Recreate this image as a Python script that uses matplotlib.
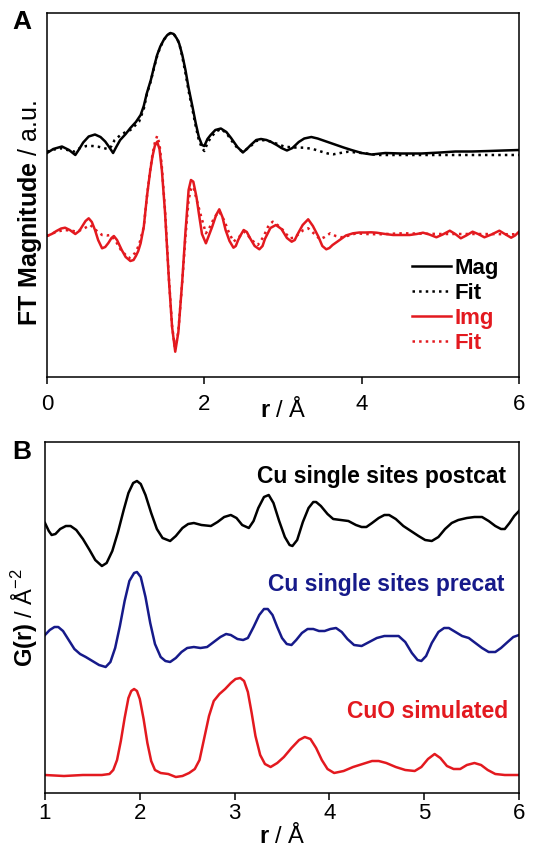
import matplotlib
matplotlib.use("Agg")
import matplotlib.pyplot as plt

plt.rcParams["font.family"] = ["Liberation Sans", "DejaVu Sans"]
plt.rcParams["mathtext.fontset"] = "custom"
plt.rcParams["mathtext.rm"] = "Liberation Sans"
plt.rcParams["mathtext.bf"] = "Liberation Sans:bold"

RED, NAVY = "#e3191f", "#161a8a"

# --- panel A: EXAFS FT, magnitude / imaginary part with fits (a.u.) ---
r_mag = [0.00, 0.08, 0.19, 0.28, 0.36, 0.41, 0.46, 0.53, 0.61, 0.68, 0.74, 0.79, 0.84, 0.88, 0.93,
         1.00, 1.06, 1.13, 1.19, 1.23, 1.27, 1.32, 1.36, 1.40, 1.44, 1.49, 1.53, 1.57, 1.61, 1.65,
         1.68, 1.72, 1.76, 1.80, 1.85, 1.89, 1.93, 1.97, 2.00, 2.04, 2.08, 2.14, 2.21, 2.28, 2.34,
         2.42, 2.49, 2.54, 2.59, 2.66, 2.72, 2.79, 2.85, 2.92, 2.98, 3.05, 3.12, 3.20, 3.27, 3.36,
         3.44, 3.55, 3.66, 3.77, 3.87, 4.00, 4.13, 4.30, 4.50, 4.76, 5.00, 5.19, 5.40, 5.62, 5.80,
         6.00]
mag = [224, 228, 230.5, 227, 222, 228, 234.5, 240.5, 242.5, 240, 235.5, 230, 224, 230, 237,
       243, 249, 255, 262, 271, 284, 297, 310, 322, 330.5, 338, 342, 344, 343, 338.5,
       333.5, 322, 307, 289, 270, 254, 240, 232, 231, 238, 242, 247, 248.5, 245, 239,
       230, 224.5, 228, 232, 237, 238, 237, 235, 232, 229, 226.5, 229, 235, 238.5, 240,
       238.5, 235.5, 232.5, 229.5, 227, 224, 222.5, 224, 223.5, 223.5, 224.5, 225.5, 225.5, 226, 226.5,
       227]

r_mag_fit = [0.00, 0.09, 0.18, 0.26, 0.34, 0.42, 0.50, 0.58, 0.65, 0.72, 0.78, 0.82, 0.86, 0.95, 1.06,
             1.17, 1.23, 1.27, 1.32, 1.36, 1.40, 1.44, 1.49, 1.53, 1.57, 1.61, 1.65, 1.68, 1.72, 1.76,
             1.80, 1.85, 1.89, 1.93, 1.97, 2.00, 2.04, 2.08, 2.14, 2.21, 2.28, 2.34, 2.42, 2.49, 2.54,
             2.59, 2.66, 2.72, 2.79, 2.85, 2.93, 3.02, 3.15, 3.27, 3.38, 3.49, 3.57, 3.64, 3.73, 3.83,
             3.93, 4.04, 4.20, 4.60, 4.97, 5.50, 6.00]
mag_fit = [225.3, 227.5, 228.7, 227, 225.3, 229, 231, 231, 230.3, 229, 227.7, 231, 237, 243, 247,
           255.3, 268, 283, 296, 309, 321, 330, 337.5, 342, 344, 343, 339, 334, 320, 304,
           286, 267, 251, 237, 229, 226, 234, 239, 245, 248, 244, 237, 229, 225, 228,
           231, 236, 237, 236.5, 235.3, 233, 230.3, 229.5, 229.3, 228, 225.3, 223.5, 222.7, 224, 225.3,
           224.5, 223.7, 222, 222, 222, 222, 222]

r_img = [0.00, 0.06, 0.12, 0.18, 0.23, 0.29, 0.36, 0.41, 0.45, 0.49, 0.53, 0.57, 0.61, 0.65, 0.70,
         0.74, 0.78, 0.82, 0.85, 0.89, 0.95, 1.00, 1.06, 1.10, 1.13, 1.16, 1.19, 1.23, 1.27, 1.31,
         1.34, 1.37, 1.40, 1.43, 1.46, 1.50, 1.55, 1.59, 1.63, 1.67, 1.72, 1.76, 1.80, 1.83, 1.86,
         1.90, 1.93, 1.97, 2.02, 2.06, 2.10, 2.15, 2.19, 2.23, 2.27, 2.32, 2.37, 2.40, 2.43, 2.47,
         2.50, 2.54, 2.58, 2.64, 2.70, 2.74, 2.77, 2.84, 2.91, 2.98, 3.05, 3.11, 3.15, 3.18, 3.25,
         3.32, 3.38, 3.45, 3.50, 3.55, 3.59, 3.63, 3.72, 3.80, 3.89, 3.97, 4.05, 4.12, 4.19, 4.30,
         4.40, 4.50, 4.61, 4.70, 4.78, 4.86, 4.95, 5.03, 5.12, 5.19, 5.26, 5.33, 5.41, 5.48, 5.56,
         5.65, 5.75, 5.82, 5.90, 5.95, 6.00]
img = [141, 143, 146, 148.5, 149.3, 147, 143, 146, 151, 156, 158.7, 155, 147, 137, 128.7,
       130, 134, 139, 141, 137, 127, 120, 116, 117, 121, 126, 133.7, 150, 180.3, 205,
       220.3, 231, 235.3, 228, 207, 165, 97, 50, 25.3, 45, 97, 145, 187, 197, 195.3,
       180, 163.7, 143, 133.7, 142, 150.3, 162, 167.7, 160, 147, 136, 129.3, 131, 137, 143,
       147, 145, 139, 131, 127.7, 131, 138, 149, 152, 148, 139, 135.3, 137, 142, 152,
       157.7, 151, 140.3, 131, 127.7, 129, 132, 137, 141.5, 143.7, 144.5, 144.5, 144.7, 144.3, 143,
       142, 142, 142, 143, 144.3, 142.5, 139.7, 142.5, 146.3, 143, 138.7, 141.5, 145.3, 143, 139.7,
       142.5, 146.3, 143, 139.3, 141.5, 145.3]

r_img_fit = [0.00, 0.10, 0.21, 0.30, 0.38, 0.47, 0.55, 0.62, 0.70, 0.76, 0.81, 0.88, 0.94, 1.04, 1.12,
             1.17, 1.23, 1.27, 1.31, 1.34, 1.37, 1.40, 1.43, 1.46, 1.50, 1.55, 1.59, 1.63, 1.67, 1.72,
             1.76, 1.80, 1.83, 1.86, 1.90, 1.96, 2.02, 2.07, 2.13, 2.19, 2.25, 2.31, 2.37, 2.44, 2.51,
             2.56, 2.60, 2.68, 2.75, 2.82, 2.87, 2.93, 2.98, 3.04, 3.09, 3.15, 3.20, 3.26, 3.32, 3.40,
             3.47, 3.53, 3.60, 3.67, 3.74, 3.84, 3.93, 4.05, 4.22, 4.52, 5.00, 5.50, 6.00]
img_fit = [141, 144.5, 147, 146.5, 145.3, 148.5, 152, 147, 142, 141.5, 142, 135, 127, 118.7, 124,
           132, 150, 180, 206, 222, 234, 241, 233, 210, 167, 98, 51, 27, 46, 96,
           140, 177, 188, 190.3, 178, 160.3, 143.7, 150, 160, 165.3, 157, 145, 135.3, 140, 145.3,
           141, 137, 132, 140, 152, 155.3, 152, 148.7, 143, 138.7, 139.5, 143, 147, 148.7, 143,
           137.7, 140, 143.7, 141, 139.7, 141.5, 143.7, 143, 142.7, 143.7, 143, 143, 142.7]

# --- panel B: pair distribution functions G(r) (offset, a.u.) ---
r_post = [1.00, 1.04, 1.07, 1.11, 1.16, 1.22, 1.27, 1.33, 1.40, 1.47, 1.53, 1.60, 1.65, 1.71, 1.77,
          1.83, 1.88, 1.93, 1.97, 2.01, 2.06, 2.12, 2.18, 2.24, 2.32, 2.38, 2.45, 2.51, 2.57, 2.65,
          2.75, 2.82, 2.89, 2.96, 3.02, 3.08, 3.15, 3.20, 3.25, 3.31, 3.36, 3.41, 3.47, 3.53, 3.58,
          3.61, 3.66, 3.72, 3.78, 3.83, 3.86, 3.91, 3.98, 4.04, 4.12, 4.20, 4.28, 4.34, 4.39, 4.45,
          4.52, 4.58, 4.63, 4.70, 4.78, 4.86, 4.94, 5.01, 5.08, 5.15, 5.22, 5.29, 5.36, 5.45, 5.53,
          5.61, 5.68, 5.75, 5.81, 5.85, 5.90, 5.95, 6.00]
g_post = [270, 262, 258, 259, 264, 267, 267, 263, 254, 243, 233, 227, 230, 242, 261,
          283, 300, 310, 312, 309, 298, 280, 264, 255, 252, 257, 265, 269, 270, 268,
          267, 271, 276, 278, 275, 268, 265, 272, 285, 296, 298, 290, 272, 256, 248,
          247, 253, 271, 285, 291, 291, 287, 279, 274, 273, 272, 268, 266, 266, 270,
          275, 278, 278, 274, 267, 262, 257, 253, 252, 256, 264, 270, 273, 275, 276,
          276, 272, 267, 264, 264, 270, 277, 282]

r_pre = [1.00, 1.05, 1.10, 1.14, 1.19, 1.25, 1.31, 1.37, 1.43, 1.50, 1.57, 1.64, 1.69, 1.74, 1.79,
         1.84, 1.89, 1.94, 1.97, 2.01, 2.06, 2.11, 2.16, 2.22, 2.27, 2.32, 2.38, 2.44, 2.50, 2.57,
         2.64, 2.71, 2.78, 2.85, 2.91, 2.96, 3.03, 3.09, 3.14, 3.20, 3.26, 3.31, 3.35, 3.40, 3.45,
         3.50, 3.55, 3.60, 3.65, 3.71, 3.77, 3.83, 3.89, 3.95, 4.01, 4.07, 4.13, 4.19, 4.26, 4.34,
         4.42, 4.50, 4.58, 4.66, 4.73, 4.80, 4.87, 4.93, 4.97, 5.02, 5.08, 5.15, 5.21, 5.26, 5.33,
         5.40, 5.47, 5.54, 5.61, 5.68, 5.75, 5.81, 5.88, 5.94, 6.00]
g_pre = [158, 163, 166, 166, 162, 153, 144, 139, 136, 132, 128, 126, 131, 145, 167,
         192, 212, 220, 221, 216, 196, 170, 149, 136, 132, 131, 135, 141, 145, 146,
         145, 146, 151, 156, 159, 158, 154, 153, 155, 166, 178, 184, 184, 178, 166,
         155, 149, 148, 153, 160, 164, 164, 162, 162, 164, 165, 161, 154, 148, 147,
         151, 155, 157, 157, 157, 151, 140, 133, 132, 137, 150, 161, 165, 165, 161,
         157, 155, 150, 145, 141, 141, 145, 151, 156, 158]

r_cuo = [1.00, 1.20, 1.40, 1.60, 1.68, 1.72, 1.76, 1.80, 1.84, 1.88, 1.91, 1.94, 1.97, 2.00, 2.04,
         2.08, 2.12, 2.16, 2.22, 2.30, 2.38, 2.45, 2.52, 2.58, 2.63, 2.68, 2.73, 2.78, 2.84, 2.90,
         2.96, 3.01, 3.06, 3.10, 3.14, 3.18, 3.22, 3.27, 3.32, 3.38, 3.45, 3.52, 3.60, 3.68, 3.74,
         3.80, 3.86, 3.92, 3.98, 4.05, 4.15, 4.25, 4.35, 4.45, 4.52, 4.60, 4.70, 4.80, 4.90, 4.97,
         5.04, 5.11, 5.17, 5.24, 5.31, 5.38, 5.45, 5.53, 5.60, 5.67, 5.75, 5.85, 6.00]
g_cuo = [18, 17, 18, 18, 19, 23, 33, 52, 75, 95, 102, 104, 102, 94, 74,
         50, 32, 23, 20, 19, 16, 17, 20, 24, 33, 55, 77, 92, 99, 104,
         110, 114, 115, 112, 101, 80, 57, 38, 29, 26, 30, 36, 45, 53, 56,
         54, 45, 33, 24, 20, 22, 26, 29, 32, 32, 30, 26, 23, 22, 26,
         34, 39, 35, 27, 24, 24, 28, 30, 28, 23, 19, 18, 18]

fig = plt.figure(figsize=(5.37, 8.48), dpi=100)
axA = fig.add_axes([47 / 537, 1 - 377 / 848, 472 / 537, 364 / 848])
axB = fig.add_axes([45 / 537, 1 - 793 / 848, 474 / 537, 351 / 848])

lw = 1.8
axA.plot(r_mag, mag, color="black", lw=lw, label="Mag")
axA.plot(r_mag_fit, mag_fit, color="black", lw=lw, ls=":", label="Fit")
axA.plot(r_img, img, color=RED, lw=lw, label="Img")
axA.plot(r_img_fit, img_fit, color=RED, lw=lw, ls=":", label="Fit")
axA.set_xlim(0, 6)
axA.set_ylim(0, 364)
axA.set_xticks([0, 2, 4, 6])
axA.set_yticks([])
leg = axA.legend(loc="center left", bbox_to_anchor=(0.773, 0.195), frameon=False, borderpad=0,
                 borderaxespad=0, handlelength=1.75, handletextpad=0.15, labelspacing=0.18,
                 prop={"size": 16, "weight": "bold"})
for t, c in zip(leg.get_texts(), ["black", "black", RED, RED]):
    t.set_color(c)
axA.set_ylabel(r"$\mathbf{FT\ Magnitude}$ / a.u.", fontsize=18)
axA.yaxis.set_label_coords(-0.006, 0.45)
axA.set_xlabel(r"$\mathbf{r}$ / Å", fontsize=17)
axA.xaxis.set_label_coords(0.5, -0.055)

axB.plot(r_post, g_post, color="black", lw=lw)
axB.plot(r_pre, g_pre, color=NAVY, lw=lw)
axB.plot(r_cuo, g_cuo, color=RED, lw=lw)
axB.set_xlim(1, 6)
axB.set_ylim(0, 351)
axB.set_xticks([1, 2, 3, 4, 5, 6])
axB.set_yticks([])
axB.text(0.972, 0.903, "Cu single sites postcat", transform=axB.transAxes, ha="right", va="center",
         fontsize=16.5, fontweight="bold", color="black")
axB.text(0.970, 0.593, "Cu single sites precat", transform=axB.transAxes, ha="right", va="center",
         fontsize=16.5, fontweight="bold", color=NAVY)
axB.text(0.978, 0.231, "CuO simulated", transform=axB.transAxes, ha="right", va="center",
         fontsize=16.5, fontweight="bold", color=RED)
axB.set_ylabel(r"$\mathbf{G(r)}$ / Å$^{-2}$", fontsize=17)
axB.yaxis.set_label_coords(-0.01, 0.5)
axB.set_xlabel(r"$\mathbf{r}$ / Å", fontsize=17)
axB.xaxis.set_label_coords(0.5, -0.085)

for ax, pad in ((axA, 7), (axB, 2)):
    for s in ax.spines.values():
        s.set_linewidth(1.1)
    ax.tick_params(axis="x", direction="out", length=5, width=1.1, labelsize=16, pad=pad)

fig.text(12 / 537, 1 - 22 / 848, "A", fontsize=19, fontweight="bold", va="center", ha="left")
fig.text(12 / 537, 1 - 452 / 848, "B", fontsize=19, fontweight="bold", va="center", ha="left")

fig.savefig("out.png", dpi=100)
